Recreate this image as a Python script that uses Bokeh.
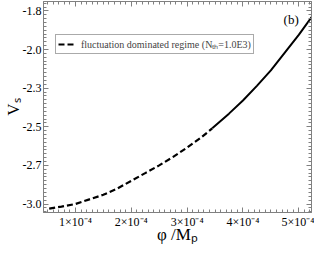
from bokeh.plotting import figure
from bokeh.models import (Range1d, LinearAxis, FixedTicker, Label, Legend, LegendItem,
                          CustomLabelingPolicy)
from bokeh.embed import file_html
from bokeh.resources import INLINE

# ---- data ----
phi_fluct = [0.53e-4, 0.75e-4, 1.0e-4, 1.25e-4, 1.5e-4, 1.75e-4, 2.0e-4, 2.25e-4,
             2.5e-4, 2.75e-4, 3.0e-4, 3.25e-4, 3.45e-4]
vs_fluct = [-3.03, -3.017, -3.0, -2.97, -2.94, -2.90, -2.85, -2.80,
            -2.75, -2.695, -2.635, -2.57, -2.51]
phi_other = [3.45e-4, 3.75e-4, 4.0e-4, 4.25e-4, 4.5e-4, 4.75e-4, 5.0e-4, 5.23e-4]
vs_other = [-2.51, -2.415, -2.33, -2.235, -2.135, -2.02, -1.905, -1.79]

x_ticks = [1e-4, 2e-4, 3e-4, 4e-4, 5e-4]
x_tick_labels = ["1×10⁻⁴", "2×10⁻⁴", "3×10⁻⁴", "4×10⁻⁴", "5×10⁻⁴"]
y_ticks = [-3.0, -2.75, -2.5, -2.25, -2.0, -1.75]
y_tick_labels = ["-3.0", "-2.7", "-2.5", "-2.3", "-2.0", "-1.8"]
x_title = "φ /Mₚ"
y_title = "Vₛ"
legend_label = "fluctuation dominated regime (Nₜₕ=1.0E3)"
panel_tag = "(b)"
panel_tag_pos = (5.0e-4, -1.805)

FONT = "Liberation Serif"
GRAY = "#808080"

x_minor = [round(i * 1e-5, 10) for i in range(0, 60)]
y_minor = [-3.25 + i * 0.025 for i in range(0, 80)]

p = figure(width=314, height=246, output_backend="svg", toolbar_location=None,
           x_range=Range1d(0.428e-4, 5.228e-4), y_range=Range1d(-3.055, -1.689),
           min_border_left=4, min_border_right=3, min_border_top=1, min_border_bottom=2,
           x_axis_location=None, y_axis_location=None)
p.xgrid.visible = False
p.ygrid.visible = False
p.outline_line_color = GRAY
p.background_fill_color = "white"
p.border_fill_color = "white"

xt = FixedTicker(ticks=x_ticks, minor_ticks=x_minor)
yt = FixedTicker(ticks=y_ticks, minor_ticks=y_minor)

NO_LABELS = "for (let i = 0; i < indices.size; i++) { indices.unset(i) } return indices"


def style(ax, labels):
    ax.axis_line_color = GRAY
    ax.major_tick_line_color = GRAY
    ax.minor_tick_line_color = GRAY
    ax.major_tick_in = 5
    ax.major_tick_out = 0
    ax.minor_tick_in = 3
    ax.minor_tick_out = 0
    ax.major_label_text_font = FONT
    ax.major_label_text_color = "black"
    ax.axis_label_text_font = FONT
    ax.axis_label_text_font_style = "normal"
    ax.axis_label_text_color = "black"
    ax.axis_label_text_font_size = "17px"
    ax.axis_label_standoff = 0
    if labels:
        ax.major_label_text_font_size = "12px"
        ax.major_label_standoff = 2
    else:
        ax.major_label_text_font_size = "0px"
        ax.major_label_standoff = 0
        ax.major_label_policy = CustomLabelingPolicy(code=NO_LABELS)


xb = LinearAxis(ticker=xt, major_label_overrides=dict(zip(x_ticks, x_tick_labels)),
                axis_label=x_title)
style(xb, True)
xb.axis_label_standoff = -7
p.add_layout(xb, "below")
xa = LinearAxis(ticker=xt)
style(xa, False)
p.add_layout(xa, "above")
yl = LinearAxis(ticker=yt, major_label_overrides=dict(zip(y_ticks, y_tick_labels)),
                axis_label=y_title)
style(yl, True)
yl.axis_label_standoff = -3
p.add_layout(yl, "left")
yr = LinearAxis(ticker=yt)
style(yr, False)
p.add_layout(yr, "right")

r1 = p.line(phi_fluct, vs_fluct, line_color="black", line_width=2.2, line_dash="6 3")
p.line(phi_other, vs_other, line_color="black", line_width=2)

leg = Legend(items=[LegendItem(label=legend_label, renderers=[r1])],
             location=(12, 158), margin=0, padding=2, spacing=0,
             glyph_width=18, glyph_height=12, label_standoff=5,
             label_text_font=FONT, label_text_font_size="10px",
             label_height=12, border_line_color="#555555", border_line_width=1,
             background_fill_alpha=1)
p.add_layout(leg, "center")

p.add_layout(Label(x=panel_tag_pos[0], y=panel_tag_pos[1], text=panel_tag,
                   text_font=FONT, text_font_size="13px", text_align="right",
                   text_color="black", text_baseline="middle"))

open("out.html", "w").write(file_html(p, INLINE))
